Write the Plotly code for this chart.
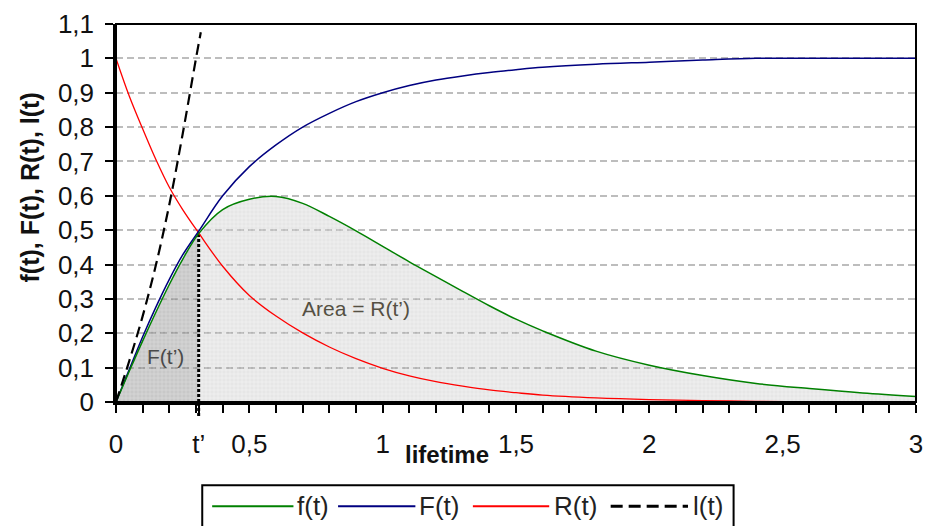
import plotly.graph_objects as go

# ---- data -----------------------------------------------------------------
t_prime = 0.31

t = [0, 0.05, 0.1, 0.15, 0.2, 0.25, 0.31, 0.4, 0.5, 0.6, 0.7, 0.8, 0.9, 1.0,
     1.1, 1.2, 1.3, 1.4, 1.5, 1.6, 1.8, 2.0, 2.2, 2.4, 2.6, 2.8, 3.0]

f_vals = [0, 0.09, 0.178, 0.262, 0.342, 0.415, 0.49, 0.56, 0.59, 0.598, 0.578,
          0.54, 0.498, 0.453, 0.408, 0.365, 0.322, 0.280, 0.241, 0.207, 0.148,
          0.107, 0.077, 0.054, 0.039, 0.026, 0.016]

F_vals = [0, 0.095, 0.19, 0.277, 0.357, 0.428, 0.497, 0.60, 0.685, 0.748, 0.80,
          0.840, 0.874, 0.900, 0.921, 0.937, 0.949, 0.959, 0.967, 0.974, 0.983,
          0.989, 0.995, 1.0, 1.0, 1.0, 1.0]

R_vals = [1.0, 0.89, 0.795, 0.705, 0.625, 0.56, 0.492, 0.395, 0.31, 0.25, 0.201,
          0.160, 0.126, 0.098, 0.076, 0.059, 0.046, 0.035, 0.027, 0.020, 0.012,
          0.007, 0.004, 0.002, 0.0]

l_t = [0, 0.05, 0.1, 0.15, 0.2, 0.25, 0.3, 0.318]
l_vals = [0, 0.12, 0.25, 0.40, 0.575, 0.78, 1.0, 1.076]

x_tick_vals = [0, t_prime, 0.5, 1, 1.5, 2, 2.5, 3]
x_tick_text = ["0", "t\u2019", "0,5", "1", "1,5", "2", "2,5", "3"]

series_names = ["f(t)", "F(t)", "R(t)", "l(t)"]
series_colors = ["#008000", "#000080", "#ff0000", "#000000"]
series_dash = ["solid", "solid", "solid", "11px,6px"]

# ---- figure geometry (pixels) ------------------------------------------------
W, H = 932, 526
PL, PR, PT, PB = 116, 923, 21, 402


def px_x(px):
    return (px - PL) / (PR - PL)


def px_y(py):
    return (PB - py) / (PB - PT)


FONT = "Liberation Sans, Arial, sans-serif"

fig = go.Figure()

# shaded areas under f(t): right of t' and left of t'
i_tp = t.index(t_prime)
fig.add_trace(go.Scatter(
    x=t[i_tp:], y=f_vals[i_tp:], mode="lines", line=dict(width=0, shape="spline"),
    fill="tozeroy", fillcolor="rgba(150,150,150,0.24)",
    fillpattern=dict(shape="+", size=4, solidity=0.25, fgcolor="rgba(255,255,255,0.6)",
                     bgcolor="rgba(150,150,150,0.24)", fillmode="replace"),
    hoverinfo="skip", showlegend=False))
fig.add_trace(go.Scatter(
    x=t[:i_tp + 1], y=f_vals[:i_tp + 1], mode="lines", line=dict(width=0, shape="spline"),
    fill="tozeroy", fillcolor="rgba(110,110,110,0.38)",
    fillpattern=dict(shape="+", size=4, solidity=0.25, fgcolor="rgba(235,235,235,0.6)",
                     bgcolor="rgba(110,110,110,0.38)", fillmode="replace"),
    hoverinfo="skip", showlegend=False))

# dotted marker line at t'
fig.add_trace(go.Scatter(
    x=[t_prime, t_prime], y=[0, f_vals[i_tp]], mode="lines",
    line=dict(color="black", width=3, dash="3px,2px"),
    hoverinfo="skip", showlegend=False))

# curves
fig.add_trace(go.Scatter(x=t[:len(R_vals)], y=R_vals, mode="lines", name=series_names[2],
                         line=dict(color=series_colors[2], width=1.3, shape="spline")))
fig.add_trace(go.Scatter(x=t, y=F_vals, mode="lines", name=series_names[1],
                         line=dict(color=series_colors[1], width=1.5, shape="spline")))
fig.add_trace(go.Scatter(x=t, y=f_vals, mode="lines", name=series_names[0],
                         line=dict(color=series_colors[0], width=1.5, shape="spline")))
fig.add_trace(go.Scatter(x=l_t, y=l_vals, mode="lines", name=series_names[3],
                         line=dict(color=series_colors[3], width=2.2, dash=series_dash[3],
                                   shape="spline")))

shapes = [
    # plot frame
    dict(type="rect", xref="paper", yref="paper", x0=0, x1=1, y0=0, y1=1,
         line=dict(color="black", width=2), layer="above"),
    # dotted t' marker continuing below the axis
    dict(type="line", xref="paper", yref="paper",
         x0=px_x(PL) + t_prime / 3, x1=px_x(PL) + t_prime / 3,
         y0=px_y(416), y1=px_y(PB),
         line=dict(color="black", width=3, dash="3px,2px"), layer="above"),
    # legend box
    dict(type="rect", xref="paper", yref="paper",
         x0=px_x(203), x1=px_x(739), y0=px_y(540), y1=px_y(486),
         line=dict(color="black", width=2), fillcolor="white", layer="above"),
]

annotations = [
    dict(text="F(t\u2019)", x=0.186, y=0.133, xref="x", yref="y", showarrow=False,
         xanchor="center", yanchor="middle",
         font=dict(family=FONT, size=21, color="#4a4a4a")),
    dict(text="Area = R(t\u2019)", x=0.90, y=0.271, xref="x", yref="y", showarrow=False,
         xanchor="center", yanchor="middle",
         font=dict(family=FONT, size=21, color="#555043")),
    dict(text="<b>lifetime</b>", x=px_x(450), y=px_y(455), xref="paper", yref="paper",
         xanchor="center", yanchor="middle",
         showarrow=False, font=dict(family=FONT, size=24, color="#111")),
    dict(text="<b>f(t), F(t), R(t), l(t)</b>", x=px_x(29), y=px_y(186), xref="paper",
         yref="paper", xanchor="center", yanchor="middle", showarrow=False, textangle=-90,
         font=dict(family=FONT, size=25, color="#111")),
]

# hand-drawn legend row
legend_y = px_y(507)
legend_lines = [(213, 295), (340, 418), (476, 553), (615, 693)]
legend_text_x = [297, 420, 556, 696]
for k in range(4):
    x0, x1 = legend_lines[k]
    shapes.append(dict(type="line", xref="paper", yref="paper",
                       x0=px_x(x0), x1=px_x(x1), y0=legend_y, y1=legend_y,
                       line=dict(color=series_colors[k], width=3 if k == 3 else 2,
                                 dash="12px,6px" if k == 3 else "solid"),
                       layer="above"))
    annotations.append(dict(text=series_names[k], x=px_x(legend_text_x[k]), y=legend_y,
                            xref="paper", yref="paper", xanchor="left", yanchor="middle",
                            showarrow=False,
                            font=dict(family=FONT, size=26, color="#222")))

fig.update_layout(
    width=W, height=H,
    margin=dict(l=PL, r=W - PR, t=PT, b=H - PB),
    paper_bgcolor="white", plot_bgcolor="white",
    separators=",.",
    showlegend=False,
    font=dict(family=FONT, size=26, color="#111"),
    shapes=shapes,
    annotations=annotations,
    xaxis=dict(
        range=[0, 3], tickmode="array", tickvals=x_tick_vals, ticktext=x_tick_text,
        ticks="outside", ticklen=8, tickwidth=1.5, tickcolor="black",
        showline=True, linewidth=2.5, linecolor="black",
        showgrid=False, zeroline=False, ticklabelstandoff=9,
        tickfont=dict(family=FONT, size=26, color="#111"),
        minor=dict(tickmode="linear", tick0=0, dtick=0.1, ticks="outside",
                   ticklen=8, tickwidth=1.5, tickcolor="black", showgrid=False),
    ),
    yaxis=dict(
        range=[0, 1.1], tick0=0, dtick=0.1,
        ticks="outside", ticklen=8, tickwidth=1.5, tickcolor="black",
        showline=True, linewidth=2.5, linecolor="black",
        showgrid=True, gridcolor="#bdbdbd", gridwidth=1.5, griddash="7px,4px",
        zeroline=False, ticklabelstandoff=6,
        tickfont=dict(family=FONT, size=26, color="#111"),
    ),
)

fig.write_html("out.html")
